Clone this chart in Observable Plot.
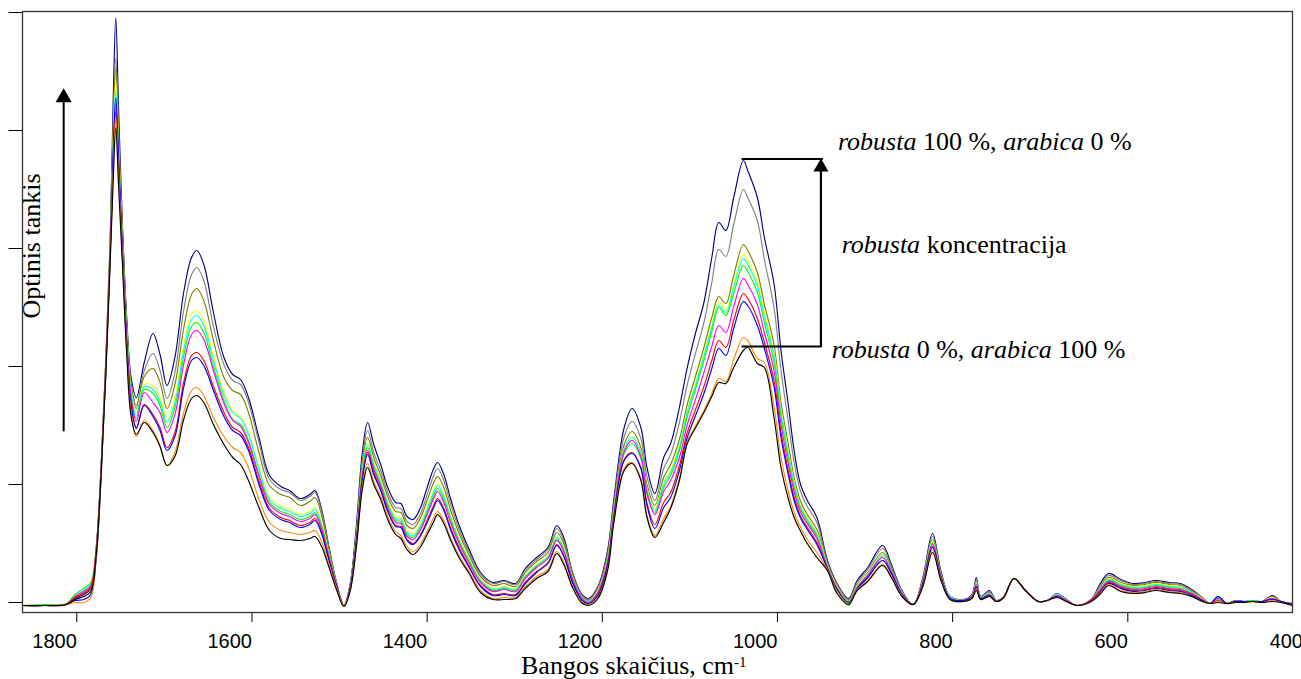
<!DOCTYPE html>
<html><head><meta charset="utf-8">
<script src="https://cdn.jsdelivr.net/npm/d3@7"></script>
<script src="https://cdn.jsdelivr.net/npm/@observablehq/plot@0.6"></script>
<style>body{margin:0;background:#fff;} svg text{white-space:pre;}</style>
</head><body><div id="chart"></div>
<script>
// Wavenumber grid (cm-1)
const wavenumber = [1850,1825,1800,1790,1780,1772,1766,1760,1755,1750,
1746.5,1743.5,1740.5,1736,1731,1726,1720,1711,1701,1693,
1685,1676,1666,1657,1651,1643,1632,1620,1610,1601,
1592,1580,1568,1555,1545,1533,1522,1516,1509,1500,
1492,1483,1476,1469,1462,1456,1449,1441,1433,1424,
1418,1411,1404,1396,1388,1381,1376,1369,1361,1351,
1340,1327,1313,1300,1287,1276,1263,1250,1240,1232,
1222,1212,1204,1193,1182,1175,1163,1154,1144,1137,
1128,1118,1110,1100,1091,1082,1072,1063,1055,1047,
1038,1027,1022,1011,1003,992,984,976,969,962,
954,943,931,920,907,897,885,868,858,846,
833,822,811,801,791,776,766,761,756,746,
738,730,718,705,690,680,669,658,646,630,
620,610,596,582,568,556,541,528,515,503,
494,485,475,465,455,445,435,423,413,400];

// Optical density (arbitrary units) per robusta share
const r100 = [-3,-3,-2,4,8,14,52,140,240,360,
500,585,500,380,285,225,205,240,269,248,
217,245,310,345,352,338,290,245,228,223,
205,165,127,116,112,104,108,112,95,55,
22,-3,18,75,150,180,158,138,115,100,
99,86,83,94,115,133,140,128,103,76,
53,30,20,22,19,34,45,55,77,65,
30,9,4,16,52,102,175,194,175,135,
109,145,159,195,235,268,300,345,380,372,
405,442,432,405,365,319,252,200,152,119,
102,85,42,19,4,22,35,57,38,12,
-2,25,69,30,6,3,8,25,6,12,
2,5,24,12,1,2,9,3,-3,3,
18,29,23,19,20,22,20,19,13,5,
-1,6,-1,2,1,2,1,7,1,-1];
const r90 = [-3,-3,-2,5,10,16,52,140,238,356,
478,545,478,372,280,220,197,232,249,232,
204,230,292,328,335,322,276,238,222,218,
200,160,123,113,110,102,106,110,93,54,
21,-3,17,70,143,172,150,132,110,95,
94,81,78,88,108,126,134,122,98,72,
50,28,19,21,18,32,43,53,74,62,
29,8,3,15,49,98,166,181,164,126,
102,134,148,180,218,248,280,320,353,346,
378,413,405,382,343,295,232,183,140,112,
96,80,40,18,3,20,33,54,36,11,
-2,24,66,29,6,3,7,23,6,11,
2,5,24,12,1,2,9,3,-3,3,
16,27,22,18,19,21,19,18,12,5,
-1,5,-1,2,1,2,1,6,1,-1];
const r80 = [-3,-3,-2,5,10,16,52,140,238,354,
470,535,470,368,276,216,194,226,234,220,
194,218,274,308,314,302,262,225,212,208,
190,150,117,108,105,97,101,105,89,52,
21,-3,16,67,138,165,145,127,106,91,
90,77,74,84,102,119,126,115,92,68,
47,26,17,19,16,30,41,50,70,59,
27,7,2,13,46,94,158,171,155,118,
97,125,138,163,198,225,255,285,306,299,
327,358,352,330,298,258,200,160,125,102,
88,73,38,17,2,18,30,50,34,10,
-2,22,63,27,5,2,7,21,5,10,
1,5,24,12,1,2,8,2,-3,2,
14,25,20,17,18,20,18,17,11,4,
-1,4,-1,2,1,2,1,5,1,-1];
const r70 = [-3,-3,-2,6,11,17,52,140,236,352,
460,522,460,362,272,212,190,218,217,205,
184,205,257,288,292,282,246,210,192,186,
170,135,105,96,93,88,91,95,81,48,
20,-3,15,64,133,160,140,122,101,86,
85,72,69,78,95,111,119,108,86,63,
43,23,14,16,14,27,38,47,66,55,
25,6,1,12,43,91,154,166,150,114,
94,120,132,157,192,218,248,278,300,293,
318,348,342,321,290,250,193,153,120,98,
85,70,37,16,1,17,29,48,32,10,
-2,21,61,26,5,2,6,20,5,9,
1,5,24,12,1,2,8,2,-3,2,
13,24,19,16,17,19,17,16,10,4,
-1,3,-1,1,1,2,1,5,1,-2];
const r60 = [-3,-3,-2,6,12,18,52,140,236,350,
452,512,452,360,270,210,187,216,213,201,
180,200,252,283,287,277,242,207,190,184,
168,133,103,94,91,86,89,93,79,47,
20,-3,15,63,131,158,138,120,99,84,
83,70,67,76,93,109,117,106,84,61,
42,22,13,15,13,26,37,46,65,54,
24,6,1,11,42,90,153,165,149,112,
92,118,130,155,190,216,246,275,297,290,
315,344,338,317,286,246,190,150,118,96,
83,68,36,15,1,16,28,47,32,10,
-2,21,60,26,5,2,6,19,5,9,
1,5,24,12,1,2,8,2,-3,2,
13,23,18,15,16,18,16,15,10,3,
-1,3,-1,1,1,2,1,4,1,-2];
const r50 = [-3,-2,-1,8,14,20,54,140,236,350,
440,492,440,356,266,206,184,213,209,197,
175,195,246,276,280,270,236,202,183,178,
162,128,100,91,88,83,86,90,77,46,
19,-4,15,62,129,155,135,118,97,82,
81,68,65,74,90,106,114,103,82,60,
41,21,12,14,12,25,36,45,63,52,
23,5,-3,10,41,88,149,159,144,108,
90,115,127,152,186,212,242,271,295,287,
309,337,331,310,280,240,185,146,115,94,
81,66,35,13,-3,15,27,45,31,9,
-2,20,59,25,4,2,6,18,4,8,
1,5,24,12,1,2,7,2,-3,2,
12,22,17,14,15,17,15,14,9,3,
-1,5,-1,1,1,2,1,4,1,-2];
const r40 = [-3,-3,-2,6,11,17,52,138,234,348,
445,499,445,356,265,205,181,210,200,190,
170,188,238,268,272,263,232,199,182,176,
160,126,98,89,86,81,84,88,75,45,
19,-3,14,61,126,152,133,116,95,80,
79,66,63,72,88,103,111,100,79,58,
39,20,11,13,11,24,35,44,62,51,
23,5,0,10,40,87,151,162,146,110,
88,111,122,145,178,202,230,256,277,270,
296,324,318,298,270,232,178,140,111,91,
79,64,35,14,0,15,27,45,31,9,
-2,20,58,25,4,2,6,18,4,8,
1,5,24,12,1,2,7,2,-3,2,
12,21,16,13,14,16,14,13,9,3,
-1,4,-1,1,1,1,1,4,1,-2];
const r30 = [-3,-3,-2,5,9,15,50,136,232,346,
438,490,438,352,260,198,175,198,188,175,
155,170,220,247,250,242,216,190,175,170,
155,121,94,85,82,77,80,84,72,43,
18,-3,14,60,124,150,130,113,92,77,
76,63,59,67,82,96,104,94,74,54,
36,17,8,9,8,20,31,40,58,47,
20,3,-1,8,37,84,143,150,135,99,
78,100,110,137,170,192,216,242,262,255,
282,309,304,284,260,222,170,133,105,87,
75,60,34,13,0,14,25,42,29,8,
-2,19,56,24,4,2,5,16,4,7,
1,5,24,12,1,2,6,1,-3,2,
11,20,15,12,13,15,13,12,8,2,
-1,2,-1,1,1,1,1,3,1,-2];
const r20 = [-3,-3,-2,2,3,8,42,130,228,344,
450,505,450,352,260,198,174,197,186,172,
152,166,215,242,245,237,212,186,172,167,
152,118,92,83,80,75,78,82,70,42,
18,-3,14,59,122,148,128,112,91,76,
75,62,58,66,80,94,102,92,72,52,
35,16,7,8,7,19,30,39,57,46,
20,3,-1,7,36,83,142,149,134,97,
74,95,105,132,165,186,209,234,254,247,
274,301,297,277,254,216,165,129,102,85,
73,58,34,13,0,14,25,42,29,8,
-2,19,55,24,4,2,5,15,4,7,
1,5,24,12,1,2,6,1,-3,1,
10,19,14,11,12,14,12,11,7,2,
-1,6,-1,1,1,1,1,3,1,-2];
const r10 = [-3,-3,-2,0,0,5,45,132,228,342,
430,485,430,345,252,190,166,182,172,157,
137,150,190,212,215,207,185,166,155,150,
135,103,80,72,70,68,70,72,62,38,
16,-3,12,55,116,139,121,106,86,71,
67,56,51,58,71,84,91,82,64,46,
31,12,4,5,5,16,26,33,51,40,
16,1,-2,5,33,80,134,140,124,87,
67,84,96,124,161,176,192,209,224,221,
243,265,262,244,240,196,145,112,90,76,
63,50,33,11,-1,13,22,38,26,7,
-2,17,52,22,3,1,4,13,3,6,
1,5,24,12,1,2,5,1,-3,1,
9,18,12,10,11,13,11,10,6,1,
-1,1,-1,0,0,1,0,2,0,-3];
const r0 = [-3,-3,-2,3,6,11,46,132,226,338,
420,475,420,340,248,186,168,180,170,156,
137,146,183,204,207,200,178,158,145,138,
122,95,72,64,63,62,64,66,57,35,
14,-4,11,54,113,135,118,103,83,68,
64,53,48,55,68,80,88,79,62,44,
29,10,3,3,4,14,24,31,49,38,
15,0,-3,4,32,79,132,139,122,85,
65,80,94,122,159,174,190,206,220,219,
235,252,255,239,235,185,135,105,85,72,
59,45,32,9,-2,12,21,37,25,6,
-2,16,50,21,3,1,4,12,3,6,
1,5,24,12,1,2,5,1,-3,1,
8,17,11,9,10,12,10,9,6,1,
-1,0,-1,0,0,1,0,1,0,-3];

const seriesNames = ["robusta 100 %","robusta 90 %","robusta 80 %","robusta 70 %","robusta 60 %","robusta 50 %","robusta 40 %","robusta 30 %","robusta 20 %","robusta 10 %","robusta 0 %"];
const seriesColors = ["#000080","#808080","#808000","#ffff00","#00ffff","#00ff00","#ff00ff","#ff0000","#0000ff","#ff8c00","#000000"];
const xTicks = [1800,1600,1400,1200,1000,800,600,400];
const yTicks = [0,118,236,354,472,590];

// annotation geometry (data units)
const bigArrowX = [1803, 1803];
const bigArrowY = [172, 505];
const bigArrowHead = [1803, 505];
const bracketTopX = [1028, 937];
const bracketTopY = [443.5, 443.5];
const bracketLowX = [1028, 938.4, 938.4];
const bracketLowY = [256, 256, 432];
const bracketHead = [938.4, 435.3];
const noteX = [918.4, 914.2, 925.6];
const noteY = [452, 349, 244];
const noteParts = [
  [["robusta", true], [" 100 %, ", false], ["arabica", true], [" 0 %", false]],
  [["robusta", true], [" koncentracija", false]],
  [["robusta", true], [" 0 %, ", false], ["arabica", true], [" 100 %", false]]
];
const yLabel = "Optinis tankis";
const xLabel = "Bangos skaičius, cm";
const xLabelSup = "-1";

const series = [r100, r90, r80, r70, r60, r50, r40, r30, r20, r10, r0];
if (series.some(s => s.length !== wavenumber.length)) throw new Error("length mismatch " + series.map(s => s.length).join(","));
const data = series.flatMap((vals, i) => vals.map((v, j) => ({x: wavenumber[j], y: v, s: seriesNames[i]})));

const serif = "'Liberation Serif','Times New Roman',serif";
const plot = Plot.plot({
  width: 1301,
  height: 679,
  marginLeft: 22,
  marginRight: 9,
  marginTop: 11,
  marginBottom: 67,
  style: {fontFamily: "'Liberation Sans',Arial,sans-serif", fontSize: "20px", background: "#fff", color: "#000", overflow: "visible"},
  x: {domain: [1850, 400]},
  y: {domain: [-10, 591]},
  color: {domain: seriesNames, range: seriesColors},
  marks: [
    Plot.axisX({ticks: xTicks, tickSize: 10, tickPadding: 11.5, tickFormat: d => String(d), textAnchor: "end", dx: 10.5, label: null, fontSize: 20, stroke: "#000"}),
    Plot.axisY({ticks: yTicks, tickSize: 13.5, tickFormat: () => "", label: null, stroke: "#000"}),
    Plot.line(data, {x: "x", y: "y", z: "s", stroke: "s", curve: "catmull-rom", strokeWidth: 1.15}),
    Plot.line(bigArrowX.map((x, i) => ({x, y: bigArrowY[i]})), {x: "x", y: "y", stroke: "#000", strokeWidth: 2}),
    Plot.dot([bigArrowHead], {x: d => d[0], y: d => d[1], symbol: "triangle", r: 6, fill: "#000", stroke: "none"}),
    Plot.line(bracketTopX.map((x, i) => ({x, y: bracketTopY[i]})), {x: "x", y: "y", stroke: "#000", strokeWidth: 2.2}),
    Plot.line(bracketLowX.map((x, i) => ({x, y: bracketLowY[i]})), {x: "x", y: "y", stroke: "#000", strokeWidth: 2.2}),
    Plot.dot([bracketHead], {x: d => d[0], y: d => d[1], symbol: "triangle", r: 5.6, fill: "#000", stroke: "none"}),
    Plot.frame({stroke: "#333", strokeWidth: 1.3})
  ]
});

const svg = d3.select(plot);
const sx = plot.scale("x"), sy = plot.scale("y");
noteParts.forEach((parts, k) => {
  const t = svg.append("text")
    .attr("x", sx.apply(noteX[k])).attr("y", sy.apply(noteY[k]))
    .attr("text-anchor", "start")
    .attr("font-family", serif).attr("font-size", 26).attr("fill", "#000");
  parts.forEach(([s, it]) => t.append("tspan").attr("font-style", it ? "italic" : "normal").text(s));
});
svg.append("text")
  .attr("transform", "translate(40,246) rotate(-90)")
  .attr("text-anchor", "middle")
  .attr("font-family", serif).attr("font-size", 26).attr("fill", "#000")
  .text(yLabel);
const xl = svg.append("text")
  .attr("x", 521).attr("y", 674)
  .attr("text-anchor", "start")
  .attr("font-family", serif).attr("font-size", 26).attr("fill", "#000");
xl.append("tspan").text(xLabel);
xl.append("tspan").attr("font-size", 15).attr("dy", -7).text(xLabelSup);

document.getElementById("chart").appendChild(plot);
</script>
</body></html>
